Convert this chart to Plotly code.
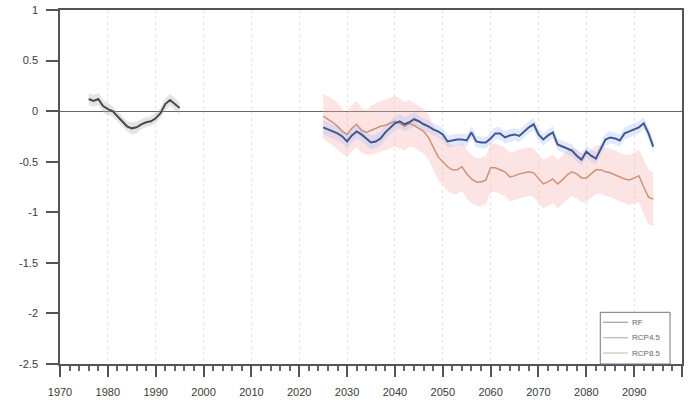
import plotly.graph_objects as go

# ---- data -------------------------------------------------------------
hist_years = list(range(1976, 1996))
hist_mean = [0.12, 0.10, 0.12, 0.05, 0.02, 0.00, -0.05, -0.10, -0.15, -0.17,
             -0.16, -0.13, -0.11, -0.10, -0.07, -0.02, 0.07, 0.11, 0.07, 0.03]
hist_spread = [0.06, 0.06, 0.06, 0.06, 0.06, 0.05, 0.05, 0.05, 0.05, 0.06,
               0.06, 0.05, 0.05, 0.05, 0.05, 0.05, 0.06, 0.06, 0.06, 0.06]

proj_years = list(range(2025, 2095))
rf_mean = [-0.16, -0.18, -0.20, -0.22, -0.25, -0.30, -0.24, -0.20, -0.23, -0.27,
           -0.31, -0.30, -0.27, -0.21, -0.16, -0.12, -0.10, -0.13, -0.11, -0.08,
           -0.10, -0.13, -0.15, -0.18, -0.20, -0.23, -0.30, -0.29, -0.28, -0.28,
           -0.29, -0.21, -0.30, -0.31, -0.31, -0.27, -0.22, -0.22, -0.26, -0.24,
           -0.23, -0.245, -0.20, -0.16, -0.13, -0.23, -0.28, -0.24, -0.21, -0.33,
           -0.35, -0.37, -0.39, -0.44, -0.48, -0.40, -0.44, -0.47, -0.37, -0.28,
           -0.26, -0.27, -0.29, -0.22, -0.20, -0.18, -0.16, -0.12, -0.22, -0.35]
rf_spread = [0.07, 0.07, 0.07, 0.07, 0.07, 0.07, 0.07, 0.07, 0.07, 0.07,
             0.07, 0.07, 0.07, 0.07, 0.07, 0.07, 0.07, 0.07, 0.07, 0.07,
             0.06, 0.06, 0.06, 0.06, 0.06, 0.06, 0.06, 0.06, 0.06, 0.06,
             0.06, 0.06, 0.06, 0.06, 0.06, 0.06, 0.06, 0.06, 0.06, 0.06,
             0.06, 0.06, 0.06, 0.06, 0.06, 0.06, 0.06, 0.06, 0.06, 0.06,
             0.06, 0.06, 0.06, 0.06, 0.06, 0.06, 0.06, 0.06, 0.06, 0.06,
             0.06, 0.06, 0.06, 0.06, 0.06, 0.06, 0.06, 0.06, 0.06, 0.06]

rcp45_mean = [-0.05, -0.08, -0.11, -0.15, -0.20, -0.23, -0.17, -0.13, -0.19, -0.21,
              -0.19, -0.17, -0.15, -0.14, -0.12, -0.10, -0.12, -0.15, -0.12, -0.14,
              -0.17, -0.20, -0.26, -0.36, -0.45, -0.50, -0.55, -0.58, -0.58, -0.55,
              -0.62, -0.67, -0.70, -0.70, -0.68, -0.56, -0.56, -0.58, -0.60, -0.65,
              -0.64, -0.62, -0.61, -0.60, -0.61, -0.67, -0.72, -0.70, -0.67, -0.72,
              -0.68, -0.63, -0.60, -0.62, -0.66, -0.66, -0.62, -0.58, -0.58, -0.60,
              -0.61, -0.63, -0.65, -0.67, -0.68, -0.66, -0.64, -0.75, -0.85, -0.87]
rcp45_spread = [0.22, 0.23, 0.23, 0.23, 0.22, 0.22, 0.23, 0.23, 0.22, 0.22,
                0.24, 0.25, 0.25, 0.25, 0.25, 0.25, 0.25, 0.24, 0.23, 0.22,
                0.22, 0.22, 0.22, 0.22, 0.23, 0.23, 0.24, 0.24, 0.24, 0.24,
                0.24, 0.24, 0.24, 0.24, 0.24, 0.24, 0.24, 0.24, 0.24, 0.24,
                0.24, 0.24, 0.24, 0.24, 0.24, 0.24, 0.24, 0.24, 0.24, 0.24,
                0.24, 0.24, 0.24, 0.24, 0.24, 0.24, 0.24, 0.24, 0.24, 0.24,
                0.24, 0.24, 0.24, 0.24, 0.25, 0.25, 0.26, 0.27, 0.27, 0.26]

legend_names = ["RF", "RCP4.5", "RCP8.5"]
legend_colors = ["#8a8a8a", "#b0a49c", "#b8bca8"]

y_ticks = [1, 0.5, 0, -0.5, -1, -1.5, -2, -2.5]
y_tick_text = ["1", "0.5", "0", "-0.5", "-1", "-1.5", "-2", "-2.5"]


def band(x, mean, spread, color):
    upper = [m + s for m, s in zip(mean, spread)]
    lower = [m - s for m, s in zip(mean, spread)]
    return go.Scatter(x=list(x) + list(x)[::-1], y=upper + lower[::-1],
                      fill="toself", fillcolor=color, line=dict(width=0),
                      mode="lines", hoverinfo="skip", showlegend=False)


fig = go.Figure()

# uncertainty envelopes
fig.add_trace(band(proj_years, rcp45_mean, rcp45_spread, "rgba(248,170,170,0.32)"))
fig.add_trace(band(proj_years, rf_mean, rf_spread, "rgba(170,195,245,0.35)"))
fig.add_trace(band(hist_years, hist_mean, hist_spread, "rgba(160,160,160,0.28)"))

# mean curves
fig.add_trace(go.Scatter(x=proj_years, y=rcp45_mean, mode="lines",
                         line=dict(color="#cf9274", width=1.5), showlegend=False))
fig.add_trace(go.Scatter(x=proj_years, y=rf_mean, mode="lines",
                         line=dict(color="#44558f", width=2), showlegend=False))
fig.add_trace(go.Scatter(x=hist_years, y=hist_mean, mode="lines",
                         line=dict(color="#4a4a4a", width=2), showlegend=False))

# compact legend box in the lower-right corner (paper coordinates)
box_x0, box_x1, box_y1 = 0.8686, 0.9808, 0.146
fig.add_shape(type="rect", xref="paper", yref="paper",
              x0=box_x0, x1=box_x1, y0=0, y1=box_y1,
              line=dict(color="#777", width=1), fillcolor="white", layer="above")
entry_y = [0.118, 0.074, 0.031]
for name, col, yy in zip(legend_names, legend_colors, entry_y):
    fig.add_shape(type="line", xref="paper", yref="paper",
                  x0=0.873, x1=0.913, y0=yy, y1=yy,
                  line=dict(color=col, width=1), layer="above")
    fig.add_annotation(xref="paper", yref="paper", x=0.916, y=yy,
                       xanchor="left", yanchor="middle", text=name,
                       showarrow=False, font=dict(size=8, color="#666"))

fig.update_layout(
    width=688, height=407,
    margin=dict(l=60, r=4, t=8, b=43),
    paper_bgcolor="white", plot_bgcolor="white",
    showlegend=False,
    font=dict(family="Liberation Sans, Arial, sans-serif", size=11, color="#3a3a3a"),
    xaxis=dict(range=[1970, 2100], dtick=10, tick0=1970,
               showline=True, linecolor="#555", linewidth=1.5, mirror=True,
               ticks="outside", ticklen=11, tickcolor="#555", tickwidth=1.5,
               showgrid=True, gridcolor="#e6e6e6", griddash="dot", gridwidth=1,
               minor=dict(dtick=2, ticks="outside", ticklen=5,
                          tickcolor="#666", showgrid=False),
               zeroline=False, ticklabelstandoff=6),
    yaxis=dict(range=[-2.5, 1], tickvals=y_ticks, ticktext=y_tick_text,
               showline=True, linecolor="#555", linewidth=1.5, mirror=True,
               ticks="outside", ticklen=12, tickcolor="#555", tickwidth=1.5,
               showgrid=False, zeroline=True, zerolinecolor="#666",
               zerolinewidth=1, ticklabelstandoff=6),
)

fig.write_html("out.html")
